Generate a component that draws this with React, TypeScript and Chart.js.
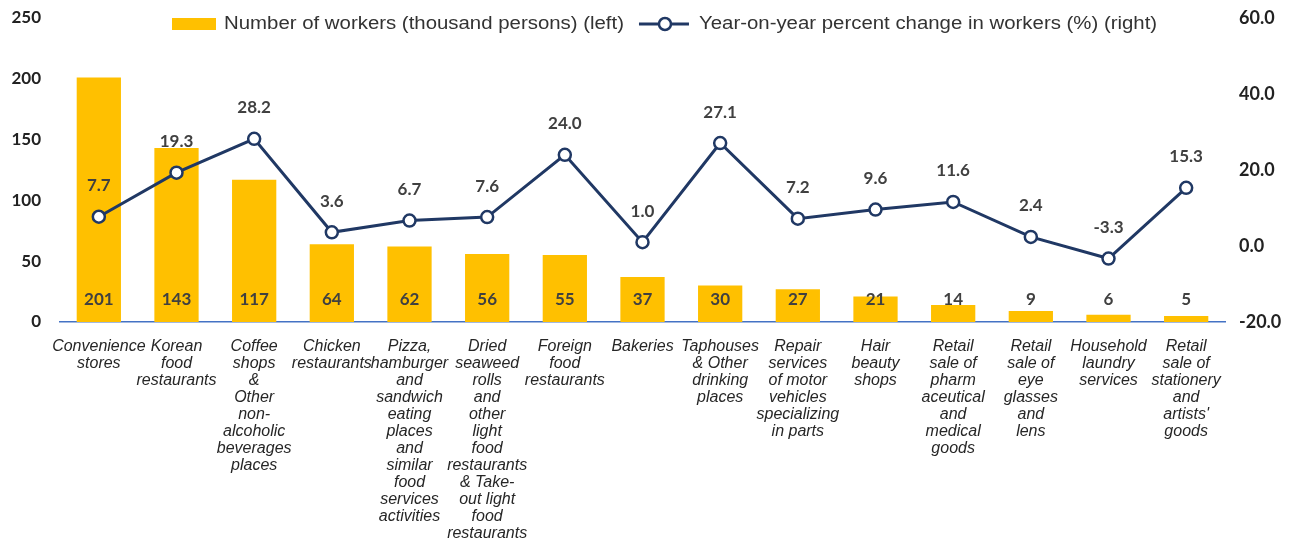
import React, { useEffect, useRef } from "react";
import { Chart, registerables } from "chart.js";

Chart.register(...registerables);

const categories: string[][] = [
  ["Convenience", "stores"],
  ["Korean", "food", "restaurants"],
  ["Coffee", "shops", "&", "Other", "non-", "alcoholic", "beverages", "places"],
  ["Chicken", "restaurants"],
  ["Pizza,", "hamburger", "and", "sandwich", "eating", "places", "and", "similar", "food", "services", "activities"],
  ["Dried", "seaweed", "rolls", "and", "other", "light", "food", "restaurants", "& Take-", "out light", "food", "restaurants"],
  ["Foreign", "food", "restaurants"],
  ["Bakeries"],
  ["Taphouses", "& Other", "drinking", "places"],
  ["Repair", "services", "of motor", "vehicles", "specializing", "in parts"],
  ["Hair", "beauty", "shops"],
  ["Retail", "sale of", "pharm", "aceutical", "and", "medical", "goods"],
  ["Retail", "sale of", "eye", "glasses", "and", "lens"],
  ["Household", "laundry", "services"],
  ["Retail", "sale of", "stationery", "and", "artists'", "goods"],
];

const workers: number[] = [201, 143, 117, 64, 62, 56, 55, 37, 30, 27, 21, 14, 9, 6, 5];
const yoyChange: number[] = [7.7, 19.3, 28.2, 3.6, 6.7, 7.6, 24.0, 1.0, 27.1, 7.2, 9.6, 11.6, 2.4, -3.3, 15.3];

const barLegend = "Number of workers (thousand persons) (left)";
const lineLegend = "Year-on-year percent change in workers (%) (right)";

const leftAxis = { min: 0, max: 250, step: 50 };
const rightAxis = { min: -20, max: 60, step: 20 };

const BAR_COLOR = "#FFC000";
const LINE_COLOR = "#203864";
const LABEL_COLOR = "#404040";
const NUM_FONT = "Lato, 'Open Sans', sans-serif";
const TEXT_FONT = "'Liberation Sans', Arial, sans-serif";

const labelsPlugin = {
  id: "valueLabels",
  afterDatasetsDraw(chart: any) {
    const ctx = chart.ctx;
    const yL = chart.scales.y;
    ctx.save();
    ctx.fillStyle = LABEL_COLOR;
    ctx.font = `bold 17px ${NUM_FONT}`;
    ctx.textAlign = "center";
    ctx.textBaseline = "middle";
    const barMeta = chart.getDatasetMeta(0);
    barMeta.data.forEach((el: any, i: number) => {
      ctx.fillText(String(workers[i]), el.x, yL.getPixelForValue(0) - 22);
    });
    const lineMeta = chart.getDatasetMeta(1);
    lineMeta.data.forEach((el: any, i: number) => {
      ctx.fillText(yoyChange[i].toFixed(1), el.x, el.y - 31);
    });
    ctx.restore();
  },
};

const legendPlugin = {
  id: "topLegend",
  afterDraw(chart: any) {
    const ctx = chart.ctx;
    const sx = 1.165;
    ctx.save();
    const y = 24;
    ctx.textBaseline = "middle";
    ctx.textAlign = "left";
    let x = 172;
    ctx.fillStyle = BAR_COLOR;
    ctx.fillRect(x, y - 6, 44, 12);
    x = 224;
    ctx.font = `17.5px ${TEXT_FONT}`;
    ctx.fillStyle = "#333333";
    ctx.save();
    ctx.translate(x, y);
    ctx.scale(sx, 1);
    ctx.fillText(barLegend, 0, 0);
    ctx.restore();
    x += ctx.measureText(barLegend).width * sx + 15;
    ctx.strokeStyle = LINE_COLOR;
    ctx.lineWidth = 3;
    ctx.beginPath();
    ctx.moveTo(x, y);
    ctx.lineTo(x + 50, y);
    ctx.stroke();
    ctx.beginPath();
    ctx.arc(x + 26, y, 6, 0, Math.PI * 2);
    ctx.fillStyle = "#ffffff";
    ctx.fill();
    ctx.lineWidth = 2.5;
    ctx.stroke();
    x += 60;
    ctx.fillStyle = "#333333";
    ctx.save();
    ctx.translate(x, y);
    ctx.scale(sx, 1);
    ctx.fillText(lineLegend, 0, 0);
    ctx.restore();
    ctx.restore();
  },
};

export default function App() {
  const ref = useRef<HTMLCanvasElement | null>(null);

  useEffect(() => {
    if (!ref.current) return;
    const chart = new Chart(ref.current, {
      type: "bar",
      data: {
        labels: categories,
        datasets: [
          {
            type: "bar",
            label: barLegend,
            data: workers,
            backgroundColor: BAR_COLOR,
            yAxisID: "y",
            order: 1,
            categoryPercentage: 1,
            barPercentage: 0.57,
          },
          {
            type: "line",
            label: lineLegend,
            data: yoyChange,
            borderColor: LINE_COLOR,
            borderWidth: 3,
            pointBackgroundColor: "#ffffff",
            pointBorderColor: LINE_COLOR,
            pointBorderWidth: 2.5,
            pointRadius: 6,
            yAxisID: "y1",
            order: 0,
            tension: 0,
          },
        ] as any,
      },
      options: {
        animation: false,
        responsive: true,
        maintainAspectRatio: false,
        layout: { padding: { left: 0, right: 0, top: 0, bottom: 0 } },
        plugins: {
          legend: { display: false },
          tooltip: { enabled: false },
        },
        scales: {
          x: {
            grid: { display: false, drawTicks: false },
            border: { display: true, color: "#4472C4", width: 1.5 },
            afterFit: (s: any) => {
              s.height = 222;
            },
            ticks: {
              autoSkip: false,
              maxRotation: 0,
              minRotation: 0,
              padding: 16,
              color: "#262626",
              font: { family: TEXT_FONT, size: 16, style: "italic", lineHeight: 17 / 16 },
            },
          },
          y: {
            position: "left",
            min: leftAxis.min,
            max: leftAxis.max,
            grid: { display: false, drawTicks: false },
            border: { display: false },
            afterFit: (s: any) => {
              s.width = 60;
              s.paddingTop = 18;
              s.paddingBottom = 0;
            },
            ticks: {
              stepSize: leftAxis.step,
              padding: 19,
              color: "#222222",
              font: { family: NUM_FONT, size: 17, weight: "bold" },
            },
          },
          y1: {
            position: "right",
            min: rightAxis.min,
            max: rightAxis.max,
            grid: { display: false, drawTicks: false },
            border: { display: false },
            afterFit: (s: any) => {
              s.width = 70;
              s.paddingTop = 18;
              s.paddingBottom = 0;
            },
            ticks: {
              stepSize: rightAxis.step,
              padding: 14,
              color: "#222222",
              font: { family: NUM_FONT, size: 18, weight: "bold" },
              callback: (v: any) => Number(v).toFixed(1),
            },
          },
        },
      },
      plugins: [labelsPlugin, legendPlugin],
    });
    return () => chart.destroy();
  }, []);

  return (
    <div style={{ position: "fixed", left: 0, top: 0, width: 1295, height: 544, background: "#ffffff" }}>
      <canvas ref={ref} />
    </div>
  );
}
